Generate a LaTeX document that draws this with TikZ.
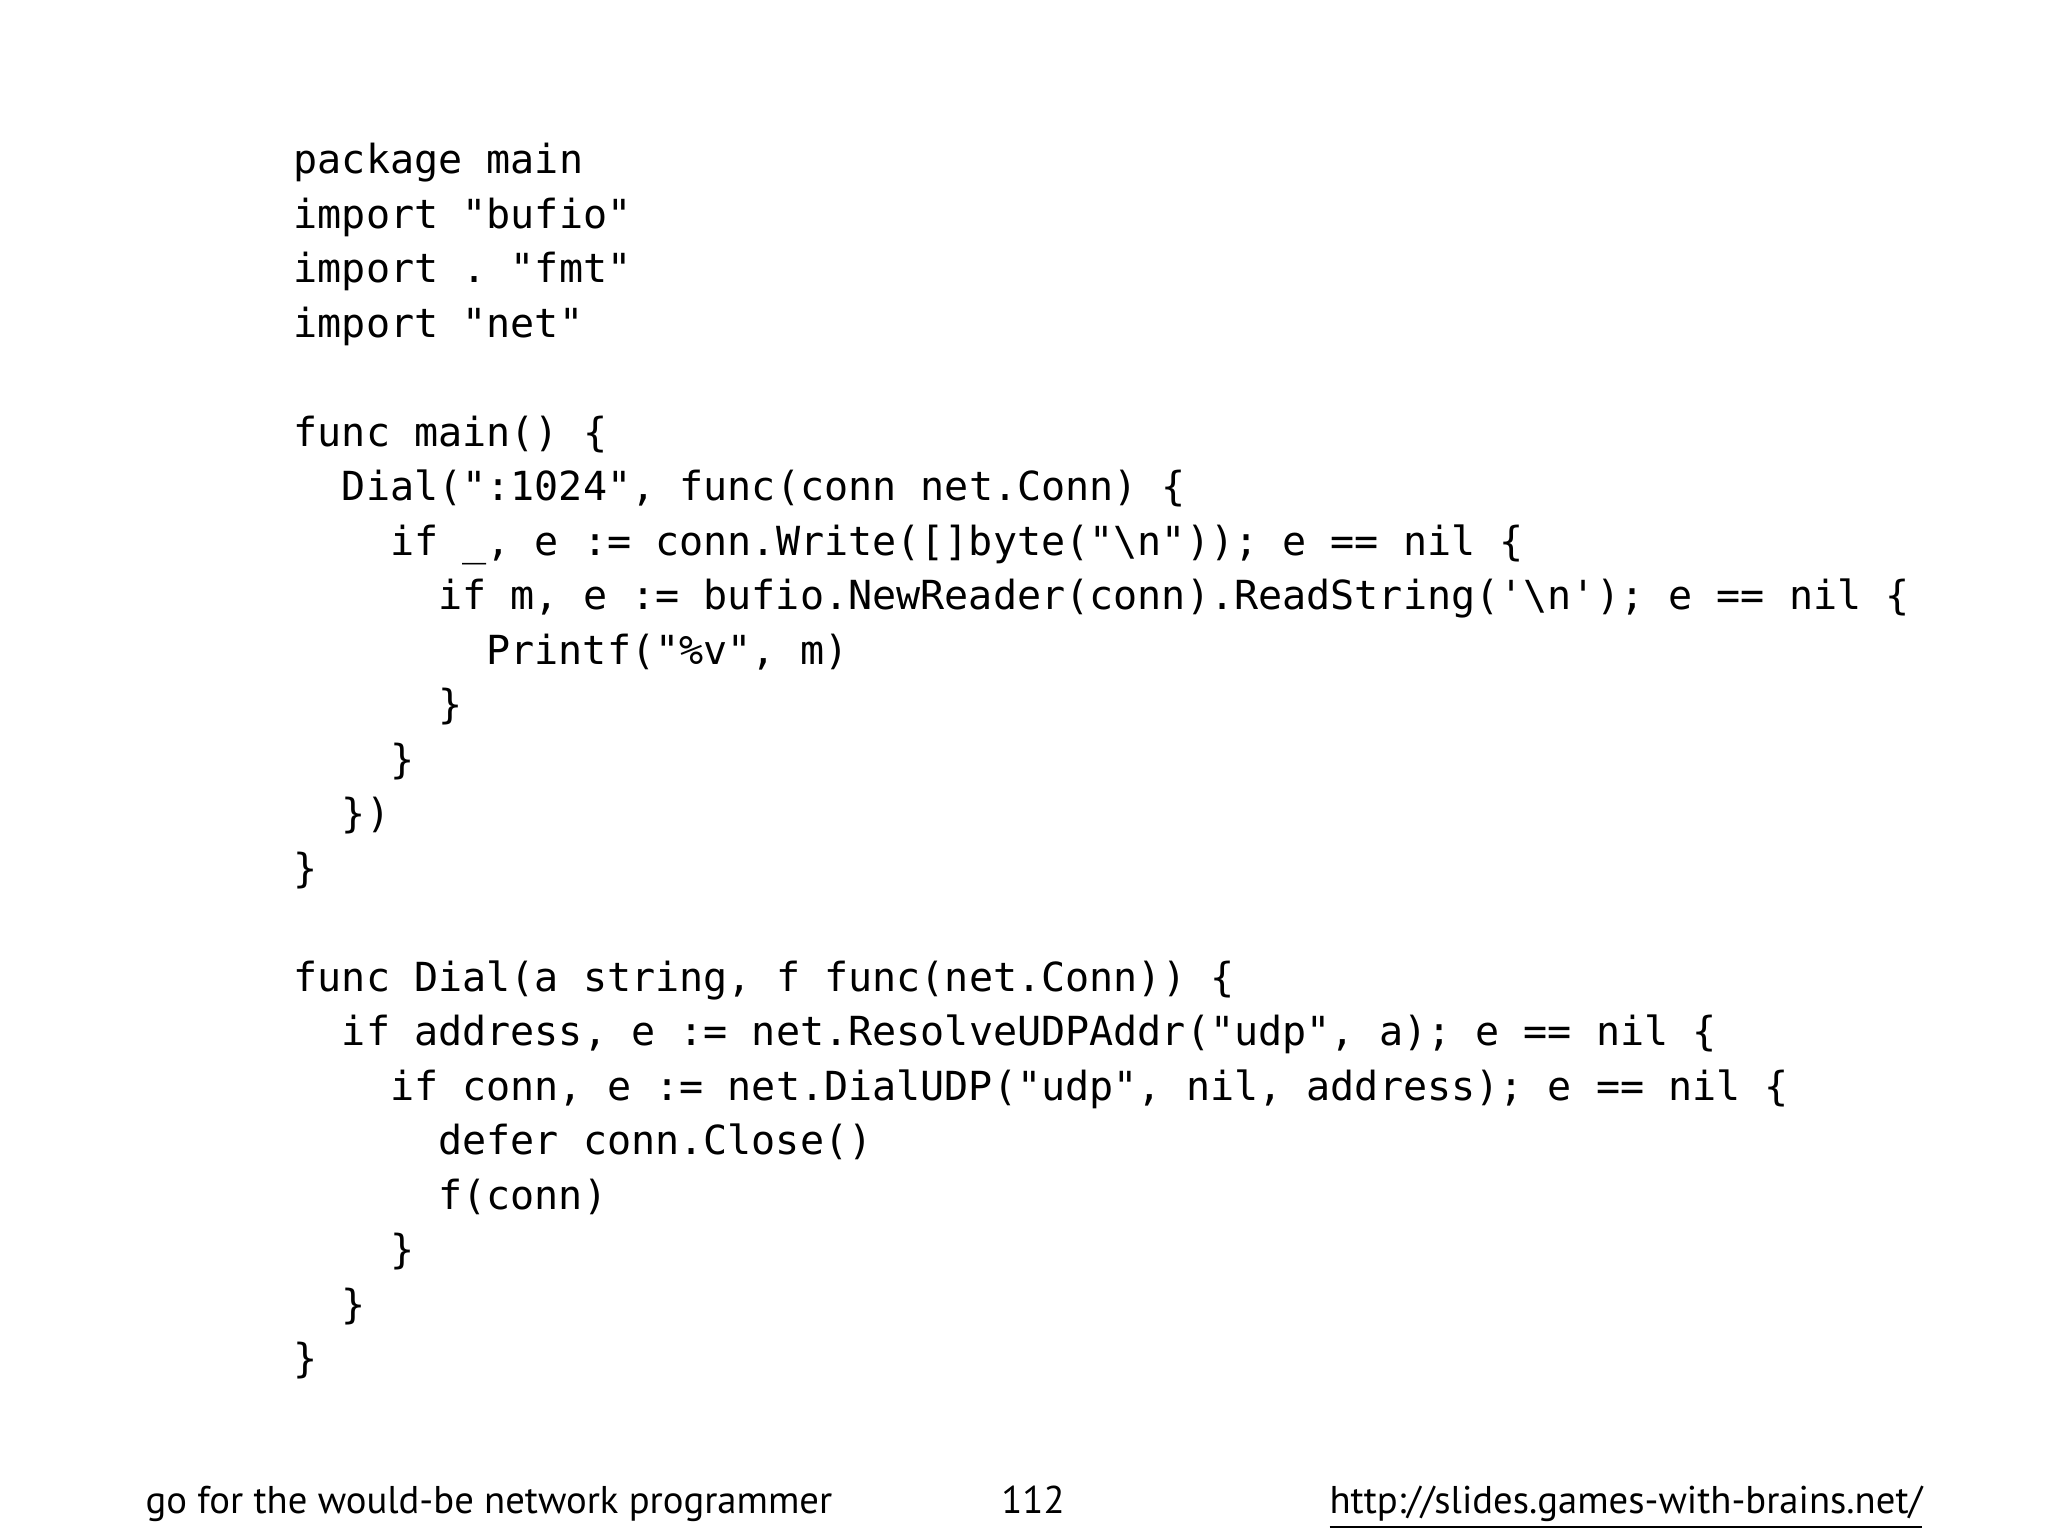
\documentclass[tikz,border=0pt]{standalone}
\usepackage{fontspec}
\setmonofont{DejaVu Sans Mono}
\setmainfont{PT Sans}
\begin{document}
\begin{tikzpicture}[x=1cm,y=1cm,
  code/.style={anchor=base west,inner sep=0pt,font=\ttfamily\fontsize{11.4}{12}\selectfont},
  foot/.style={anchor=base,inner sep=0pt,font=\fontsize{11}{12}\selectfont}]
\useasboundingbox (0,0) rectangle (20.48,15.36);
\def\L#1#2#3{\node[code] (l#1) at ({2.93+#2*0.482},{13.62-(#1-1)*0.545}) {#3};}
\L{1}{0}{package main}
\L{2}{0}{import "bufio"}
\L{3}{0}{import . "fmt"}
\L{4}{0}{import "net"}
\L{6}{0}{func main() \{}
\L{7}{1}{Dial(":1024", func(conn net.Conn) \{}
\L{8}{2}{if \_, e := conn.Write([]byte("\textbackslash n")); e == nil \{}
\L{9}{3}{if m, e := bufio.NewReader(conn).ReadString('\textbackslash n'); e == nil \{}
\L{10}{4}{Printf("\%v", m)}
\L{11}{3}{\}}
\L{12}{2}{\}}
\L{13}{1}{\})}
\L{14}{0}{\}}
\L{16}{0}{func Dial(a string, f func(net.Conn)) \{}
\L{17}{1}{if address, e := net.ResolveUDPAddr("udp", a); e == nil \{}
\L{18}{2}{if conn, e := net.DialUDP("udp", nil, address); e == nil \{}
\L{19}{3}{defer conn.Close()}
\L{20}{3}{f(conn)}
\L{21}{2}{\}}
\L{22}{1}{\}}
\L{23}{0}{\}}
\node[foot,anchor=base west] (f1) at (1.45,0.22) {go for the would-be network programmer};
\node[foot] (f2) at (10.33,0.22) {112};
\node[foot,anchor=base east] (f3) at (19.23,0.22) {\underline{http://slides.games-with-brains.net/}};
\end{tikzpicture}
\end{document}
